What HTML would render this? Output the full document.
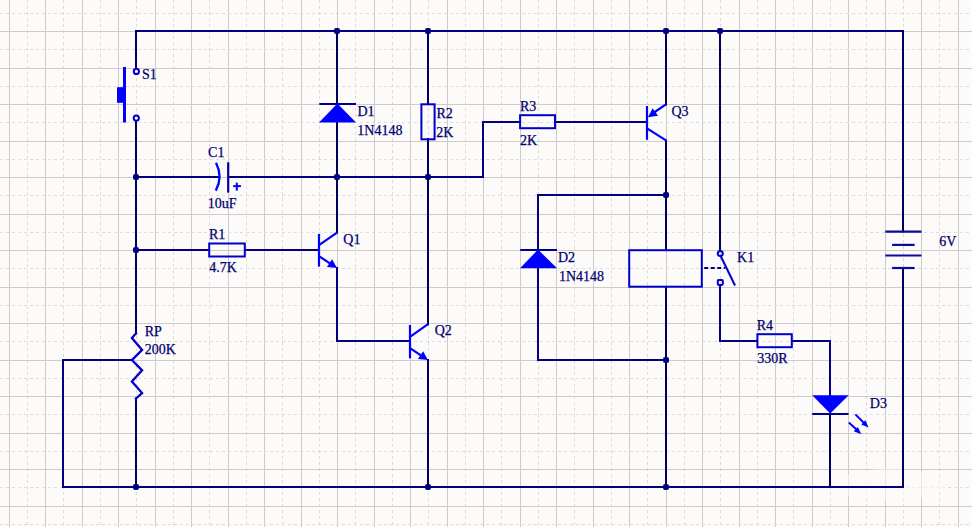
<!DOCTYPE html><html><head><meta charset="utf-8"><style>html,body{margin:0;padding:0;background:#fdfbf9;}svg{display:block}text{font-family:"Liberation Serif",serif;font-size:14px;fill:#000070;stroke:#000070;stroke-width:0.25px}</style></head><body>
<svg width="972" height="527" viewBox="0 0 972 527">
<rect width="972" height="527" fill="#fdfbf9"/>
<g shape-rendering="crispEdges"><rect x="9" y="0" width="1" height="527" fill="#cfcbca"/><line x1="27.5" y1="0" x2="27.5" y2="527" stroke="#dfdbda" stroke-width="1" stroke-dasharray="3 3"/><rect x="45" y="0" width="1" height="527" fill="#cfcbca"/><line x1="63.5" y1="0" x2="63.5" y2="527" stroke="#dfdbda" stroke-width="1" stroke-dasharray="3 3"/><rect x="82" y="0" width="1" height="527" fill="#cfcbca"/><line x1="100.5" y1="0" x2="100.5" y2="527" stroke="#dfdbda" stroke-width="1" stroke-dasharray="3 3"/><rect x="118" y="0" width="1" height="527" fill="#cfcbca"/><line x1="136.5" y1="0" x2="136.5" y2="527" stroke="#dfdbda" stroke-width="1" stroke-dasharray="3 3"/><rect x="155" y="0" width="1" height="527" fill="#cfcbca"/><line x1="173.5" y1="0" x2="173.5" y2="527" stroke="#dfdbda" stroke-width="1" stroke-dasharray="3 3"/><rect x="191" y="0" width="1" height="527" fill="#cfcbca"/><line x1="209.5" y1="0" x2="209.5" y2="527" stroke="#dfdbda" stroke-width="1" stroke-dasharray="3 3"/><rect x="228" y="0" width="1" height="527" fill="#cfcbca"/><line x1="246.5" y1="0" x2="246.5" y2="527" stroke="#dfdbda" stroke-width="1" stroke-dasharray="3 3"/><rect x="264" y="0" width="1" height="527" fill="#cfcbca"/><line x1="282.5" y1="0" x2="282.5" y2="527" stroke="#dfdbda" stroke-width="1" stroke-dasharray="3 3"/><rect x="301" y="0" width="1" height="527" fill="#cfcbca"/><line x1="319.5" y1="0" x2="319.5" y2="527" stroke="#dfdbda" stroke-width="1" stroke-dasharray="3 3"/><rect x="337" y="0" width="1" height="527" fill="#cfcbca"/><line x1="355.5" y1="0" x2="355.5" y2="527" stroke="#dfdbda" stroke-width="1" stroke-dasharray="3 3"/><rect x="374" y="0" width="1" height="527" fill="#cfcbca"/><line x1="392.5" y1="0" x2="392.5" y2="527" stroke="#dfdbda" stroke-width="1" stroke-dasharray="3 3"/><rect x="410" y="0" width="1" height="527" fill="#cfcbca"/><line x1="428.5" y1="0" x2="428.5" y2="527" stroke="#dfdbda" stroke-width="1" stroke-dasharray="3 3"/><rect x="447" y="0" width="1" height="527" fill="#cfcbca"/><line x1="465.5" y1="0" x2="465.5" y2="527" stroke="#dfdbda" stroke-width="1" stroke-dasharray="3 3"/><rect x="483" y="0" width="1" height="527" fill="#cfcbca"/><line x1="501.5" y1="0" x2="501.5" y2="527" stroke="#dfdbda" stroke-width="1" stroke-dasharray="3 3"/><rect x="520" y="0" width="1" height="527" fill="#cfcbca"/><line x1="538.5" y1="0" x2="538.5" y2="527" stroke="#dfdbda" stroke-width="1" stroke-dasharray="3 3"/><rect x="556" y="0" width="1" height="527" fill="#cfcbca"/><line x1="574.5" y1="0" x2="574.5" y2="527" stroke="#dfdbda" stroke-width="1" stroke-dasharray="3 3"/><rect x="593" y="0" width="1" height="527" fill="#cfcbca"/><line x1="611.5" y1="0" x2="611.5" y2="527" stroke="#dfdbda" stroke-width="1" stroke-dasharray="3 3"/><rect x="629" y="0" width="1" height="527" fill="#cfcbca"/><line x1="647.5" y1="0" x2="647.5" y2="527" stroke="#dfdbda" stroke-width="1" stroke-dasharray="3 3"/><rect x="666" y="0" width="1" height="527" fill="#cfcbca"/><line x1="684.5" y1="0" x2="684.5" y2="527" stroke="#dfdbda" stroke-width="1" stroke-dasharray="3 3"/><rect x="702" y="0" width="1" height="527" fill="#cfcbca"/><line x1="720.5" y1="0" x2="720.5" y2="527" stroke="#dfdbda" stroke-width="1" stroke-dasharray="3 3"/><rect x="739" y="0" width="1" height="527" fill="#cfcbca"/><line x1="757.5" y1="0" x2="757.5" y2="527" stroke="#dfdbda" stroke-width="1" stroke-dasharray="3 3"/><rect x="775" y="0" width="1" height="527" fill="#cfcbca"/><line x1="793.5" y1="0" x2="793.5" y2="527" stroke="#dfdbda" stroke-width="1" stroke-dasharray="3 3"/><rect x="812" y="0" width="1" height="527" fill="#cfcbca"/><line x1="830.5" y1="0" x2="830.5" y2="527" stroke="#dfdbda" stroke-width="1" stroke-dasharray="3 3"/><rect x="848" y="0" width="1" height="527" fill="#cfcbca"/><line x1="866.5" y1="0" x2="866.5" y2="527" stroke="#dfdbda" stroke-width="1" stroke-dasharray="3 3"/><rect x="885" y="0" width="1" height="527" fill="#cfcbca"/><line x1="903.5" y1="0" x2="903.5" y2="527" stroke="#dfdbda" stroke-width="1" stroke-dasharray="3 3"/><rect x="921" y="0" width="1" height="527" fill="#cfcbca"/><line x1="939.5" y1="0" x2="939.5" y2="527" stroke="#dfdbda" stroke-width="1" stroke-dasharray="3 3"/><rect x="958" y="0" width="1" height="527" fill="#cfcbca"/><line x1="0" y1="13.5" x2="972" y2="13.5" stroke="#dfdbda" stroke-width="1" stroke-dasharray="3 3"/><rect x="0" y="31" width="972" height="1" fill="#cfcbca"/><line x1="0" y1="49.5" x2="972" y2="49.5" stroke="#dfdbda" stroke-width="1" stroke-dasharray="3 3"/><rect x="0" y="68" width="972" height="1" fill="#cfcbca"/><line x1="0" y1="86.5" x2="972" y2="86.5" stroke="#dfdbda" stroke-width="1" stroke-dasharray="3 3"/><rect x="0" y="104" width="972" height="1" fill="#cfcbca"/><line x1="0" y1="122.5" x2="972" y2="122.5" stroke="#dfdbda" stroke-width="1" stroke-dasharray="3 3"/><rect x="0" y="141" width="972" height="1" fill="#cfcbca"/><line x1="0" y1="159.5" x2="972" y2="159.5" stroke="#dfdbda" stroke-width="1" stroke-dasharray="3 3"/><rect x="0" y="177" width="972" height="1" fill="#cfcbca"/><line x1="0" y1="195.5" x2="972" y2="195.5" stroke="#dfdbda" stroke-width="1" stroke-dasharray="3 3"/><rect x="0" y="214" width="972" height="1" fill="#cfcbca"/><line x1="0" y1="232.5" x2="972" y2="232.5" stroke="#dfdbda" stroke-width="1" stroke-dasharray="3 3"/><rect x="0" y="250" width="972" height="1" fill="#cfcbca"/><line x1="0" y1="268.5" x2="972" y2="268.5" stroke="#dfdbda" stroke-width="1" stroke-dasharray="3 3"/><rect x="0" y="287" width="972" height="1" fill="#cfcbca"/><line x1="0" y1="305.5" x2="972" y2="305.5" stroke="#dfdbda" stroke-width="1" stroke-dasharray="3 3"/><rect x="0" y="323" width="972" height="1" fill="#cfcbca"/><line x1="0" y1="341.5" x2="972" y2="341.5" stroke="#dfdbda" stroke-width="1" stroke-dasharray="3 3"/><rect x="0" y="360" width="972" height="1" fill="#cfcbca"/><line x1="0" y1="378.5" x2="972" y2="378.5" stroke="#dfdbda" stroke-width="1" stroke-dasharray="3 3"/><rect x="0" y="396" width="972" height="1" fill="#cfcbca"/><line x1="0" y1="414.5" x2="972" y2="414.5" stroke="#dfdbda" stroke-width="1" stroke-dasharray="3 3"/><rect x="0" y="433" width="972" height="1" fill="#cfcbca"/><line x1="0" y1="451.5" x2="972" y2="451.5" stroke="#dfdbda" stroke-width="1" stroke-dasharray="3 3"/><rect x="0" y="469" width="972" height="1" fill="#cfcbca"/><line x1="0" y1="487.5" x2="972" y2="487.5" stroke="#dfdbda" stroke-width="1" stroke-dasharray="3 3"/><rect x="0" y="506" width="972" height="1" fill="#cfcbca"/><line x1="0" y1="524.5" x2="972" y2="524.5" stroke="#dfdbda" stroke-width="1" stroke-dasharray="3 3"/></g>
<ellipse cx="890" cy="485" rx="58" ry="16" fill="#fdfbf9" opacity="0.55"/>
<polyline points="136,31 903,31" fill="none" stroke="#000080" stroke-width="2" stroke-linecap="square" stroke-linejoin="miter" />
<line x1="136" y1="31" x2="136" y2="68.5" stroke="#00005a" stroke-width="2" stroke-linecap="square"/>
<line x1="136" y1="121.5" x2="136" y2="333.5" stroke="#00005a" stroke-width="2" stroke-linecap="square"/>
<line x1="136" y1="398.5" x2="136" y2="487" stroke="#00005a" stroke-width="2" stroke-linecap="square"/>
<polyline points="132,360 63,360 63,487 903,487" fill="none" stroke="#000080" stroke-width="2" stroke-linecap="square" stroke-linejoin="miter" />
<line x1="903" y1="31" x2="903" y2="231.6" stroke="#00005a" stroke-width="2" stroke-linecap="square"/>
<line x1="903" y1="268" x2="903" y2="487" stroke="#00005a" stroke-width="2" stroke-linecap="square"/>
<line x1="136" y1="177" x2="219" y2="177" stroke="#000080" stroke-width="2" stroke-linecap="square"/>
<line x1="229" y1="177" x2="483" y2="177" stroke="#000080" stroke-width="2" stroke-linecap="square"/>
<polyline points="483,177 483,122 520,122" fill="none" stroke="#000080" stroke-width="2" stroke-linecap="square" stroke-linejoin="miter" />
<line x1="136" y1="250" x2="209" y2="250" stroke="#000080" stroke-width="2" stroke-linecap="square"/>
<line x1="245" y1="250" x2="319" y2="250" stroke="#000080" stroke-width="2" stroke-linecap="square"/>
<line x1="337" y1="31" x2="337" y2="104" stroke="#00005a" stroke-width="2" stroke-linecap="square"/>
<line x1="337" y1="122" x2="337" y2="232.6" stroke="#00005a" stroke-width="2" stroke-linecap="square"/>
<polyline points="337,268 337,341 410,341" fill="none" stroke="#000080" stroke-width="2" stroke-linecap="square" stroke-linejoin="miter" />
<line x1="428" y1="31" x2="428" y2="104" stroke="#00005a" stroke-width="2" stroke-linecap="square"/>
<line x1="428" y1="139" x2="428" y2="324.2" stroke="#00005a" stroke-width="2" stroke-linecap="square"/>
<line x1="428" y1="360" x2="428" y2="487" stroke="#00005a" stroke-width="2" stroke-linecap="square"/>
<line x1="555" y1="122" x2="647" y2="122" stroke="#000080" stroke-width="2" stroke-linecap="square"/>
<line x1="666" y1="31" x2="666" y2="104.5" stroke="#00005a" stroke-width="2" stroke-linecap="square"/>
<line x1="666" y1="140.4" x2="666" y2="250" stroke="#00005a" stroke-width="2" stroke-linecap="square"/>
<line x1="666" y1="287" x2="666" y2="487" stroke="#00005a" stroke-width="2" stroke-linecap="square"/>
<polyline points="666,195 538,195 538,250" fill="none" stroke="#000080" stroke-width="2" stroke-linecap="square" stroke-linejoin="miter" />
<polyline points="538,267.7 538,360 666,360" fill="none" stroke="#000080" stroke-width="2" stroke-linecap="square" stroke-linejoin="miter" />
<line x1="720" y1="31" x2="720" y2="250.5" stroke="#00005a" stroke-width="2" stroke-linecap="square"/>
<polyline points="720,285.5 720,341 757,341" fill="none" stroke="#000080" stroke-width="2" stroke-linecap="square" stroke-linejoin="miter" />
<polyline points="792,341 830,341 830,395" fill="none" stroke="#000080" stroke-width="2" stroke-linecap="square" stroke-linejoin="miter" />
<line x1="830" y1="413.8" x2="830" y2="487" stroke="#00005a" stroke-width="2" stroke-linecap="square"/>
<rect x="334" y="28" width="6" height="6" rx="2" fill="#000080"/>
<rect x="425" y="28" width="6" height="6" rx="2" fill="#000080"/>
<rect x="663" y="28" width="6" height="6" rx="2" fill="#000080"/>
<rect x="717" y="28" width="6" height="6" rx="2" fill="#000080"/>
<rect x="133" y="174" width="6" height="6" rx="2" fill="#000080"/>
<rect x="334" y="174" width="6" height="6" rx="2" fill="#000080"/>
<rect x="425" y="174" width="6" height="6" rx="2" fill="#000080"/>
<rect x="133" y="247" width="6" height="6" rx="2" fill="#000080"/>
<rect x="663" y="192" width="6" height="6" rx="2" fill="#000080"/>
<rect x="663" y="357" width="6" height="6" rx="2" fill="#000080"/>
<rect x="133" y="484" width="6" height="6" rx="2" fill="#000080"/>
<rect x="425" y="484" width="6" height="6" rx="2" fill="#000080"/>
<rect x="663" y="484" width="6" height="6" rx="2" fill="#000080"/>
<circle cx="136.4" cy="71.4" r="2.6" fill="none" stroke="#0000d0" stroke-width="2"/>
<circle cx="136.3" cy="118.1" r="2.6" fill="none" stroke="#0000d0" stroke-width="2"/>
<rect x="123" y="67" width="3" height="55.5" fill="#0000ff"/>
<rect x="117" y="87.2" width="6.5" height="15.6" fill="#0000ff"/>
<text x="142.05" y="79.40">S1</text>
<path d="M216,162.8 Q223.2,177 215.8,190.6" fill="none" stroke="#0000ff" stroke-width="2.3"/>
<line x1="228.2" y1="162.3" x2="228.2" y2="192.6" stroke="#0000a0" stroke-width="2.2" stroke-linecap="butt"/>
<line x1="233.2" y1="186.1" x2="240.9" y2="186.1" stroke="#0000ff" stroke-width="2" stroke-linecap="butt"/>
<line x1="236.8" y1="182.6" x2="236.8" y2="190.6" stroke="#0000ff" stroke-width="2" stroke-linecap="butt"/>
<text x="208.10" y="156.85">C1</text>
<text x="207.85" y="207.55">10uF</text>
<line x1="319.3" y1="103.9" x2="356" y2="103.9" stroke="#000090" stroke-width="2" stroke-linecap="butt"/>
<polygon points="319,122.5 356,122.5 337.4,103.5" fill="#0000ff"/>
<text x="357.50" y="115.60">D1</text>
<text x="357.35" y="135.35">1N4148</text>
<rect x="421.4" y="104.3" width="13.200000000000045" height="35.000000000000014" fill="none" stroke="#0000cc" stroke-width="2"/>
<text x="436.50" y="118.35">R2</text>
<text x="436.15" y="137.15">2K</text>
<rect x="209.2" y="243.5" width="35.60000000000002" height="13.0" fill="none" stroke="#0000cc" stroke-width="2"/>
<text x="208.90" y="238.80">R1</text>
<text x="209.25" y="271.75">4.7K</text>
<rect x="520.1" y="115.2" width="34.89999999999998" height="12.999999999999986" fill="none" stroke="#0000cc" stroke-width="2"/>
<text x="520.00" y="110.70">R3</text>
<text x="520.10" y="144.60">2K</text>
<rect x="757.4" y="334.2" width="34.39999999999998" height="13.0" fill="none" stroke="#0000cc" stroke-width="2"/>
<text x="756.75" y="329.90">R4</text>
<text x="757.15" y="363.35">330R</text>
<line x1="319" y1="233.9" x2="319" y2="266.6" stroke="#0000ff" stroke-width="2.2" stroke-linecap="butt"/>
<line x1="319" y1="245.2" x2="337" y2="232.6" stroke="#0000ff" stroke-width="2.2" stroke-linecap="butt"/>
<line x1="319" y1="256.2" x2="334" y2="266.1" stroke="#0000ff" stroke-width="2.2" stroke-linecap="butt"/>
<polygon points="337.00,268.00 326.90,267.00 332.05,259.14" fill="#0000ff"/>
<text x="343.35" y="243.95">Q1</text>
<line x1="410" y1="325" x2="410" y2="358.3" stroke="#0000ff" stroke-width="2.2" stroke-linecap="butt"/>
<line x1="410" y1="336.8" x2="428" y2="324.2" stroke="#0000ff" stroke-width="2.2" stroke-linecap="butt"/>
<line x1="410" y1="348.2" x2="425" y2="358.1" stroke="#0000ff" stroke-width="2.2" stroke-linecap="butt"/>
<polygon points="428.00,360.00 417.90,359.00 423.05,351.14" fill="#0000ff"/>
<text x="434.75" y="334.95">Q2</text>
<line x1="647" y1="106" x2="647" y2="139.8" stroke="#0000ff" stroke-width="2.2" stroke-linecap="butt"/>
<line x1="666" y1="104.3" x2="654" y2="112.5" stroke="#0000ff" stroke-width="2.2" stroke-linecap="butt"/>
<polygon points="648.00,117.20 652.58,108.14 658.05,115.78" fill="#0000ff"/>
<line x1="647" y1="128.4" x2="666" y2="140.4" stroke="#0000ff" stroke-width="2.2" stroke-linecap="butt"/>
<text x="671.45" y="116.45">Q3</text>
<rect x="629.2" y="250.2" width="72.59999999999991" height="36.5" fill="none" stroke="#0000cc" stroke-width="2"/>
<circle cx="720.3" cy="253.5" r="2.5" fill="none" stroke="#0000d0" stroke-width="2"/>
<rect x="717.8" y="279.9" width="5" height="5" rx="0.8" fill="none" stroke="#0000d0" stroke-width="2"/>
<line x1="720.3" y1="255.3" x2="735" y2="285.5" stroke="#0000cc" stroke-width="2" stroke-linecap="butt"/>
<line x1="704.2" y1="268" x2="725.2" y2="268" stroke="#000080" stroke-width="2" stroke-dasharray="4 2.5"/>
<text x="737.10" y="262.10">K1</text>
<line x1="520.2" y1="250" x2="557" y2="250" stroke="#000090" stroke-width="2" stroke-linecap="butt"/>
<polygon points="520,268.3 557.1,268.3 538,249.6" fill="#0000ff"/>
<text x="558.00" y="261.75">D2</text>
<text x="558.90" y="281.15">1N4148</text>
<line x1="885.3" y1="231.6" x2="921.5" y2="231.6" stroke="#0a0a9a" stroke-width="2.2" stroke-linecap="butt"/>
<line x1="892.1" y1="244.9" x2="914.6" y2="244.9" stroke="#0a0a9a" stroke-width="2.2" stroke-linecap="butt"/>
<line x1="885.3" y1="255.5" x2="921.5" y2="255.5" stroke="#0a0a9a" stroke-width="2.2" stroke-linecap="butt"/>
<line x1="892.1" y1="268" x2="914.6" y2="268" stroke="#0a0a9a" stroke-width="2.2" stroke-linecap="butt"/>
<text x="939.25" y="246.05">6V</text>
<polyline points="136,333.3 131.9,337.9 142.1,349.9 131.9,360.1 142.1,370.4 131.9,381.5 142.1,393.1 136,398.5" fill="none" stroke="#0000cc" stroke-width="2.3" stroke-linecap="square" stroke-linejoin="miter" stroke-linecap="butt"/>
<text x="144.65" y="335.55">RP</text>
<text x="144.70" y="354.15">200K</text>
<polygon points="812.2,395.2 848.7,395.2 830.2,413.5" fill="#0000ff"/>
<line x1="812.2" y1="414" x2="848.6" y2="414" stroke="#000090" stroke-width="2" stroke-linecap="butt"/>
<line x1="855.4" y1="414.4" x2="865" y2="424" stroke="#0000ff" stroke-width="2" stroke-linecap="butt"/>
<polygon points="868.60,427.60 861.18,424.42 865.42,420.18" fill="#0000ff"/>
<line x1="848.8" y1="422.6" x2="858.2" y2="431.1" stroke="#0000ff" stroke-width="2" stroke-linecap="butt"/>
<polygon points="861.30,434.30 853.77,431.37 857.87,426.98" fill="#0000ff"/>
<text x="869.85" y="407.85">D3</text>
</svg></body></html>
